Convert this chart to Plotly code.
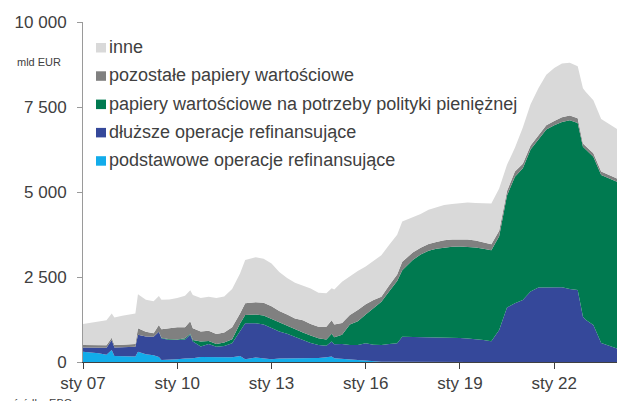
import plotly.graph_objects as go

# ---- data (mld EUR) ----
dates = [
    "2007-01-01", "2007-04-01", "2007-07-01", "2007-10-01", "2007-12-01",
    "2008-01-01", "2008-04-01", "2008-07-01", "2008-09-01", "2008-10-01",
    "2009-01-01", "2009-04-01", "2009-06-01", "2009-07-01", "2009-10-01",
    "2010-01-01", "2010-04-01", "2010-06-01", "2010-07-01", "2010-10-01",
    "2011-01-01", "2011-04-01", "2011-07-01", "2011-10-01", "2012-01-01",
    "2012-03-01", "2012-07-01", "2012-10-01", "2013-01-01", "2013-04-01",
    "2013-07-01", "2013-10-01", "2014-01-01", "2014-04-01", "2014-07-01",
    "2014-10-01", "2014-12-01", "2015-01-01", "2015-04-01", "2015-07-01",
    "2015-10-01", "2016-01-01", "2016-04-01", "2016-07-01", "2016-10-01",
    "2017-01-01", "2017-03-01", "2017-07-01", "2017-10-01", "2018-01-01",
    "2018-04-01", "2018-07-01", "2018-10-01", "2019-01-01", "2019-04-01",
    "2019-07-01", "2019-10-01", "2020-01-01", "2020-04-01", "2020-07-01",
    "2020-10-01", "2021-01-01", "2021-04-01", "2021-07-01", "2021-10-01",
    "2022-01-01", "2022-04-01", "2022-07-01", "2022-10-01", "2022-12-01",
    "2023-01-01", "2023-04-01", "2023-07-01", "2023-10-01", "2024-01-01",
]

podstawowe = [
    300, 290, 260, 210, 350, 180, 175, 165, 160, 300,
    230, 200, 150, 60, 60, 80, 100, 110, 110, 150,
    150, 130, 130, 140, 180, 80, 130, 110, 80, 100,
    100, 100, 100, 110, 120, 140, 160, 110, 90, 70,
    60, 50, 20, 10, 5, 3, 3, 3, 3, 3,
    3, 3, 3, 3, 3, 3, 3, 3, 3, 3,
    3, 3, 3, 3, 3, 3, 3, 3, 3, 3,
    3, 3, 3, 3, 3,
]

dluzsze = [
    130, 135, 160, 210, 300, 250, 260, 275, 290, 500,
    520, 545, 740, 640, 590, 565, 560, 690, 490, 305,
    380, 320, 340, 410, 710, 1060, 1010, 990, 920, 800,
    730, 640, 550, 450, 380, 340, 440, 410, 440, 430,
    440, 500, 490, 490, 525, 547, 742, 737, 732, 727,
    722, 717, 712, 702, 687, 677, 647, 607, 937, 1597,
    1722, 1817, 2067, 2187, 2197, 2207, 2197, 2147, 2117, 1327,
    1237, 1087, 557, 477, 397,
]

papiery_polityki = [
    0, 0, 0, 0, 0, 0, 0, 0, 0, 0,
    0, 0, 0, 10, 20, 20, 40, 30, 50, 145,
    90, 80, 100, 120, 245, 245, 260, 270, 270, 260,
    230, 210, 220, 220, 200, 180, 230, 210, 270, 600,
    700, 850, 1070, 1270, 1550, 1830, 1955, 2260, 2425, 2540,
    2605, 2650, 2675, 2695, 2700, 2690, 2680, 2680, 2760, 3300,
    3725, 3880, 4180, 4360, 4640, 4750, 4860, 4960, 4910, 5000,
    5010, 4950, 4940, 4920, 4900,
]

pozostale = [
    70, 70, 70, 75, 60, 70, 75, 80, 80, 190,
    140, 100, 200, 250, 330, 355, 320, 370, 340, 300,
    300, 295, 295, 350, 295, 345, 360, 370, 370, 340,
    340, 330, 360, 340, 340, 380, 400, 370, 350, 280,
    330, 300, 240, 150, 180, 190, 250, 220, 200, 200,
    200, 210, 210, 210, 210, 200, 190, 170, 160, 130,
    150, 130, 120, 120, 120, 130, 140, 140, 140, 100,
    100, 100, 100, 100, 100,
]

inne = [
    620, 655, 690, 735, 720, 810, 850, 880, 900, 1000,
    940, 945, 850, 870, 840, 860, 930, 910, 980, 980,
    1000, 1055, 1065, 1130, 1170, 1270, 1320, 1300, 1260, 1150,
    1070, 1050, 1020, 1040, 1000, 980, 940, 1030, 1210, 1140,
    1150, 1110, 1160, 1220, 1190, 1170, 1180, 1030, 990, 1010,
    1030, 1040, 1050, 1070, 1090, 1110, 1150, 1200, 1240, 770,
    700, 1070, 1210, 1380, 1490, 1560, 1580, 1550, 1530, 1620,
    1600, 1560, 1550, 1500, 1450,
]

series_names = [
    "podstawowe operacje refinansujące",
    "dłuższe operacje refinansujące",
    "papiery wartościowe na potrzeby polityki pieniężnej",
    "pozostałe papiery wartościowe",
    "inne",
]
series_values = [podstawowe, dluzsze, papiery_polityki, pozostale, inne]
series_colors = ["#12ACEA", "#35489A", "#007A50", "#808080", "#D9D9D9"]

tick_dates = ["2007-01-01", "2010-01-01", "2013-01-01", "2016-01-01",
              "2019-01-01", "2022-01-01"]
tick_labels = ["sty 07", "sty 10", "sty 13", "sty 16", "sty 19", "sty 22"]
y_ticks = [0, 2500, 5000, 7500, 10000]
y_tick_labels = ["0", "2 500", "5 000", "7 500", "10 000"]

# ---- figure ----
W, H = 617, 401
ML, MR, MT, MB = 83, 0, 22, 39
PW, PH = W - ML - MR, H - MT - MB

def px_x(px):
    return (px - ML) / PW

def px_y(py):
    return (H - MB - py) / PH

fig = go.Figure()
for name, vals, col in zip(series_names, series_values, series_colors):
    fig.add_trace(go.Scatter(
        x=dates, y=vals, name=name, stackgroup="one", mode="lines",
        line=dict(width=0, color=col), fillcolor=col, hoverinfo="skip",
    ))

txt_col = "#404040"
fig.update_layout(
    width=W, height=H,
    margin=dict(l=ML, r=MR, t=MT, b=MB),
    paper_bgcolor="white", plot_bgcolor="white",
    showlegend=False,
    font=dict(family="Liberation Sans, Arial, sans-serif", size=17, color=txt_col),
    xaxis=dict(
        type="date", range=["2007-01-01", "2024-01-01"],
        tickvals=tick_dates, ticktext=tick_labels,
        ticks="outside", ticklen=6, tickcolor=txt_col, tickwidth=1,
        showline=True, linecolor=txt_col, linewidth=1,
        showgrid=False, zeroline=False, ticklabelstandoff=0,
    ),
    yaxis=dict(
        range=[0, 10000], tickvals=y_ticks, ticktext=y_tick_labels,
        ticks="outside", ticklen=5, tickcolor="#9a9a9a", tickwidth=1,
        showline=True, linecolor="#9a9a9a", linewidth=1,
        showgrid=False, zeroline=False, ticklabelstandoff=7,
    ),
)

# ---- legend drawn as squares + text (top entry = top of stack) ----
legend_top = 48.0
legend_step = 28.3
for i, (name, col) in enumerate(zip(series_names[::-1], series_colors[::-1])):
    cy = legend_top + i * legend_step
    fig.add_shape(type="rect", xref="paper", yref="paper",
                  x0=px_x(96), x1=px_x(106), y0=px_y(cy + 4.5), y1=px_y(cy - 5),
                  fillcolor=col, line=dict(width=0))
    fig.add_annotation(text=name, xref="paper", yref="paper",
                       x=px_x(107), y=px_y(cy - 1), xanchor="left", yanchor="middle",
                       showarrow=False, font=dict(size=18, color=txt_col))

fig.add_annotation(text="mld EUR", xref="paper", yref="paper",
                   x=px_x(15), y=px_y(62), xanchor="left", yanchor="middle",
                   showarrow=False, font=dict(size=11, color=txt_col))
fig.add_annotation(text="źródło: EBC", xref="paper", yref="paper",
                   x=px_x(11), y=px_y(395), xanchor="left", yanchor="top",
                   showarrow=False, font=dict(size=11, color=txt_col))

fig.write_html("out.html", config={"displayModeBar": False},
               post_script="document.body.style.margin='0px';")
